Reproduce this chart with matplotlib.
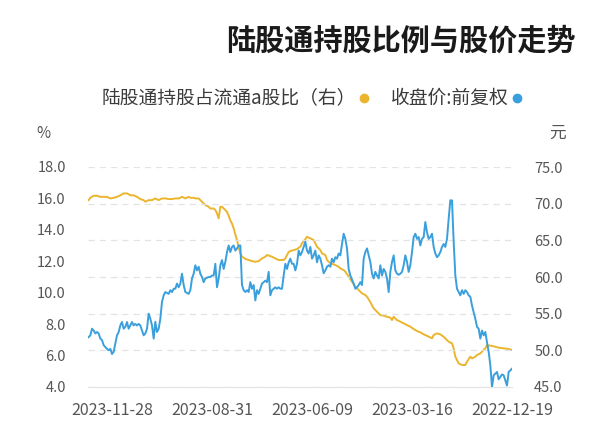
import matplotlib
matplotlib.use('Agg')
import matplotlib.pyplot as plt
from matplotlib.lines import Line2D
from matplotlib.ticker import FormatStrFormatter, MultipleLocator

plt.rcParams['font.family'] = ['Noto Sans CJK SC', 'DejaVu Sans']

# trading-day index -> closing price (元), 前复权
price_days = [
    0, 2, 3, 5, 6, 8, 9, 11, 12, 13, 14, 15, 16, 17, 18, 19, 20, 21, 22, 23,
    24, 25, 26, 27, 28, 29, 30, 31, 32, 33, 34, 35, 36, 37, 38, 39, 40, 41, 42, 43,
    44, 45, 46, 47, 48, 49, 50, 51, 52, 53, 54, 55, 56, 57, 58, 59, 60, 61, 62, 63,
    64, 65, 66, 67, 68, 69, 70, 71, 72, 73, 74, 75, 76, 77, 78, 79, 80, 81, 82, 83,
    84, 85, 86, 87, 88, 89, 90, 91, 92, 93, 94, 95, 97, 98, 99, 100, 101, 102, 103, 104,
    105, 106, 107, 108, 109, 110, 111, 112, 113, 114, 115, 116, 117, 118, 119, 120, 121, 122, 123, 124,
    125, 126, 127, 128, 129, 130, 131, 132, 133, 134, 135, 136, 137, 138, 139, 140, 141, 142, 143, 144,
    145, 146, 147, 148, 149, 150, 151, 152, 153, 154, 155, 156, 157, 158, 159, 160, 161, 162, 163, 164,
    165, 166, 167, 168, 169, 170, 171, 172, 173, 174, 175, 176, 177, 178, 179, 180, 181, 182, 184, 185,
    186, 187, 188, 189, 190, 191, 192, 193, 194, 196, 197, 198, 199, 200, 201, 202, 203, 204, 205, 206,
    208, 209, 210, 211, 212, 213, 214, 215, 216, 217, 218, 219, 220, 221, 222, 223, 224, 225, 226, 227,
    228, 229, 230, 231, 232, 233, 234, 235, 236, 237, 238, 239, 240, 241, 242, 243, 244, 245, 246, 247,
    248, 249, 250, 251, 252, 253, 254,
]
price = [
    47.5, 47.05, 45.2, 46.6, 46.7, 46.05, 47.05, 46.6, 45.0, 47.95, 49.8, 51.1, 52.5, 52.05, 52.7, 51.6, 52.95, 53.2, 54.3, 55.2,
    56.1, 57.3, 57.5, 57.95, 58.2, 57.7, 58.2, 57.5, 57.95, 58.4, 60.2, 64.8, 70.45, 70.45, 67.95, 65.2, 64.1, 64.5, 64.1, 63.4,
    62.95, 62.7, 63.2, 64.1, 65.9, 65.45, 65.2, 66.1, 67.5, 65.45, 65.2, 64.3, 65.45, 65.2, 65.9, 65.45, 63.4, 61.6, 60.7, 62.05,
    62.95, 61.6, 60.7, 60.45, 60.3, 60.45, 60.9, 62.95, 62.05, 60.7, 57.95, 59.8, 60.7, 61.1, 60.2, 61.6, 59.8, 60.2, 60.7, 59.8,
    60.45, 62.05, 62.95, 63.9, 63.4, 62.5, 58.9, 59.3, 58.9, 58.6, 58.4, 59.1, 60.2, 61.1, 63.9, 65.2, 65.9, 64.5, 62.95, 63.2,
    62.5, 62.7, 62.0, 62.5, 61.4, 61.6, 61.4, 60.9, 60.5, 61.6, 62.5, 62.95, 62.0, 63.6, 62.95, 62.5, 64.1, 63.2, 63.6, 64.8,
    64.1, 63.4, 62.95, 63.6, 61.8, 60.9, 61.8, 61.8, 62.5, 62.0, 61.1, 61.8, 60.2, 58.4, 58.4, 58.6, 58.4, 58.6, 58.4, 58.2,
    57.5, 60.7, 59.3, 59.5, 59.3, 59.1, 58.4, 57.7, 58.2, 56.8, 58.9, 58.4, 59.3, 57.95, 58.2, 57.95, 58.2, 58.9, 64.3, 64.3,
    63.9, 63.6, 64.3, 64.1, 63.4, 64.3, 63.4, 62.05, 61.1, 62.3, 61.6, 59.8, 58.6, 61.8, 60.2, 60.2, 60.0, 60.0, 59.8, 59.3,
    60.0, 60.45, 61.4, 60.9, 61.6, 60.45, 59.8, 58.2, 57.7, 57.95, 58.9, 60.45, 59.1, 58.6, 59.1, 58.4, 58.4, 57.95, 58.2, 57.7,
    57.95, 57.5, 56.6, 54.3, 52.95, 52.5, 53.9, 51.6, 53.4, 54.3, 55.0, 52.95, 52.3, 52.05, 52.7, 53.4, 53.6, 53.4, 53.6, 53.4,
    53.86, 53.4, 52.95, 53.86, 53.2, 52.95, 53.86, 53.4, 52.5, 52.05, 50.9, 49.8, 49.5, 50.2, 50.0, 50.2, 50.45, 50.7, 51.4, 51.6,
    52.3, 52.5, 52.3, 52.7, 52.95, 52.05, 51.8,
]

# trading-day index -> 陆股通持股占流通A股比 (%)
share_days = [
    0, 2, 5, 8, 11, 13, 15, 16, 18, 19, 21, 22, 24, 25, 27, 28, 30, 32, 34, 35,
    36, 38, 39, 41, 43, 45, 47, 48, 50, 51, 53, 55, 57, 59, 61, 63, 65, 67, 69, 71,
    72, 73, 75, 77, 79, 81, 83, 85, 87, 88, 90, 92, 94, 96, 98, 100, 101, 103, 104, 106,
    107, 109, 111, 112, 114, 115, 117, 118, 119, 121, 122, 123, 124, 126, 127, 129, 131, 133, 134, 136,
    137, 138, 140, 142, 144, 145, 147, 148, 150, 152, 154, 156, 158, 160, 162, 163, 164, 165, 166, 167,
    168, 169, 170, 171, 173, 174, 175, 176, 177, 178, 179, 181, 182, 184, 185, 187, 188, 190, 191, 193,
    194, 196, 198, 200, 202, 204, 206, 208, 210, 212, 214, 216, 218, 220, 221, 223, 225, 227, 229, 231,
    233, 235, 237, 239, 241, 243, 245, 247, 249, 251, 253, 254,
]
share = [
    6.35, 6.42, 6.46, 6.5, 6.59, 6.63, 6.67, 6.46, 6.25, 6.14, 6.04, 5.93, 5.82, 5.93, 5.61, 5.4, 5.4, 5.5, 5.93, 6.46,
    6.78, 6.88, 6.99, 7.2, 7.35, 7.41, 7.31, 7.1, 7.2, 7.26, 7.35, 7.48, 7.56, 7.69, 7.84, 7.94, 8.05, 8.16, 8.26, 8.47,
    8.26, 8.41, 8.47, 8.54, 8.58, 8.79, 9.0, 9.4, 9.75, 9.85, 9.96, 10.17, 10.38, 10.7, 11.02, 11.34, 11.44, 11.55, 11.65, 11.76,
    11.8, 11.87, 12.08, 12.4, 12.5, 12.71, 12.93, 13.14, 13.35, 13.46, 13.5, 13.56, 13.41, 13.14, 12.93, 12.78, 12.71, 12.65, 12.6, 12.18,
    12.08, 12.08, 12.08, 12.18, 12.29, 12.33, 12.4, 12.29, 12.18, 12.01, 11.97, 12.01, 12.08, 12.15, 12.3, 12.5, 12.9, 13.35, 13.7, 14.1,
    14.4, 14.6, 14.9, 15.15, 15.36, 15.47, 15.47, 14.73, 15.05, 15.26, 15.36, 15.36, 15.47, 15.58, 15.68, 15.89, 16.0, 16.0, 16.04, 16.04,
    16.1, 16.0, 16.1, 16.0, 16.0, 15.96, 15.96, 16.0, 16.0, 15.89, 16.0, 15.89, 15.89, 15.79, 15.89, 15.96, 16.1, 16.2, 16.2, 16.32,
    16.32, 16.2, 16.1, 16.04, 16.0, 16.1, 16.1, 16.1, 16.17, 16.17, 16.04, 15.89,
]

tick_days = [0, 60, 120, 180, 240]
tick_dates = ['2022-12-19', '2023-03-16', '2023-06-09', '2023-08-31', '2023-11-28']

title = '陆股通持股比例与股价走势'
price_label = '收盘价:前复权'
share_label = '陆股通持股占流通a股比（右）'

blue = '#3a9fdd'
gold = '#ebb62e'
grey = '#555555'

fig = plt.figure(figsize=(6.0, 4.46), dpi=100)
ax = fig.add_axes([88 / 600, 1 - 387 / 446, 424 / 600, 220 / 446])
ax2 = ax.twinx()

ax.plot(share_days, share, color=gold, lw=1.4, zorder=2)
ax2.plot(price_days, price, color=blue, lw=1.4, zorder=3)

# mirrored layout: time runs right to left
ax.set_xlim(254.4, 0)
ax.set_xticks(tick_days)
ax.set_xticklabels(tick_dates)

ax.set_ylim(4, 18)
ax.yaxis.set_major_locator(MultipleLocator(2))
ax.yaxis.set_major_formatter(FormatStrFormatter('%.1f'))
ax2.set_ylim(45, 75)
ax2.yaxis.set_major_locator(MultipleLocator(5))
ax2.yaxis.set_major_formatter(FormatStrFormatter('%.1f'))
ax2.grid(axis='y', color='#e3e3e3', ls=(0, (5, 4)), lw=0.9)
ax2.set_axisbelow(True)

for a in (ax, ax2):
    for s in a.spines.values():
        s.set_visible(False)
    a.tick_params(length=0, labelsize=10.5, labelcolor=grey)
ax.spines['bottom'].set_visible(True)
ax.spines['bottom'].set_color('#e3e3e3')
ax.tick_params(axis='y', pad=16)
ax2.tick_params(axis='y', pad=16)
ax.tick_params(axis='x', pad=11, labelsize=11.5)

fig.text(43 / 600, 1 - 133 / 446, '%', ha='center', va='center', fontsize=11, color=grey)
fig.text(557 / 600, 1 - 133 / 446, '元', ha='center', va='center', fontsize=12, color=grey)

fig.text(576 / 600, 1 - 41 / 446, title, ha='right', va='center',
         fontsize=21, fontweight='bold', color='#1a1a1a')

# legend row (mirrored order: markers sit on the right of their labels)
ly = 1 - 98 / 446
fig.add_artist(Line2D([517 / 600], [ly], marker='o', ms=6, color=blue, transform=fig.transFigure))
fig.text(509 / 600, ly, price_label, ha='right', va='center', fontsize=13.5, color='#3a3a3a')
fig.add_artist(Line2D([364 / 600], [ly], marker='o', ms=6, color=gold, transform=fig.transFigure))
fig.text(356 / 600, ly, share_label, ha='right', va='center', fontsize=13.5, color='#3a3a3a')

fig.savefig('out.png', dpi=100)
